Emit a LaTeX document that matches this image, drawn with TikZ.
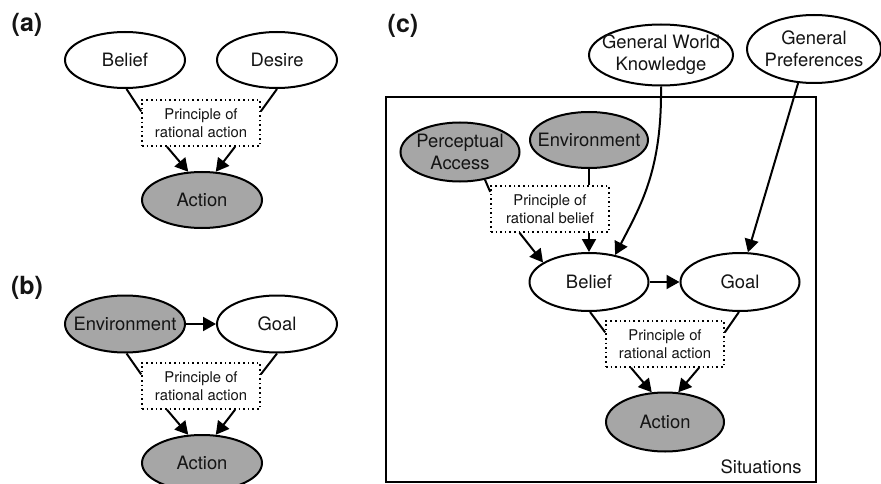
\documentclass[tikz,border=0pt]{standalone}
\usepackage{fontspec}
\setmainfont{TeX Gyre Heros}
\usetikzlibrary{shapes.geometric,arrows.meta,calc}
\definecolor{nodegray}{RGB}{166,166,166}
\definecolor{txt}{RGB}{20,20,20}
\begin{document}
\begin{tikzpicture}[x=1pt,y=-1pt,
  every node/.style={text=txt},
  ell/.style={ellipse, draw=black, line width=2pt, inner xsep=-15pt, inner ysep=-4pt, align=center,
    font=\fontsize{18.4}{22}\selectfont},
  obs/.style={ell, fill=nodegray},
  hid/.style={ell, fill=white},
  princ/.style={rectangle, draw=black, line width=1.6pt, dash pattern=on 1.6pt off 3pt,
    minimum width=118pt, minimum height=46pt, inner sep=0pt, align=center, fill=white,
    font=\fontsize{14.8}{17.7}\selectfont},
  lbl/.style={font=\fontsize{25}{28}\selectfont\bfseries, inner sep=0pt},
  link/.style={line width=2pt, draw=black},
  arr/.style={link, -{Triangle[length=13pt,width=14pt]}}
]
\useasboundingbox (0,0) rectangle (881,484);
\clip (0,0) rectangle (881,484);

% ---------- panel (a)
\node[lbl] (la) at (27,25) {(a)};
\node[hid, minimum width=120pt, minimum height=56pt] (belA) at (125,60) {Belief};
\node[hid, minimum width=120pt, minimum height=56pt] (desA) at (277,60) {Desire};
\node[princ] (boxA) at (201,123) {Principle of\\rational action};
\node[obs, minimum width=120pt, minimum height=56pt] (actA) at (202,200) {Action};
\draw[link] (belA.-87) -- (boxA.169);
\draw[link] (desA.-90) -- (boxA.11);
\draw[arr] (boxA.-145) -- (actA.116);
\draw[arr] (boxA.-35) -- (actA.64);

% ---------- panel (b)
\node[lbl] (lb) at (27,288) {(b)};
\node[obs, minimum width=120pt, minimum height=57pt] (envB) at (125,324) {Environment};
\node[hid, minimum width=120pt, minimum height=57pt] (goalB) at (277,324) {Goal};
\node[princ] (boxB) at (201,386) {Principle of\\rational action};
\node[obs, minimum width=120pt, minimum height=56pt] (actB) at (202,463) {Action};
\draw[arr] (envB.east) -- (goalB.west);
\draw[link] (envB.-87) -- (boxB.169);
\draw[link] (goalB.-90) -- (boxB.11);
\draw[arr] (boxB.-145) -- (actB.116);
\draw[arr] (boxB.-35) -- (actB.64);

% ---------- panel (c)
\node[lbl] (lc) at (403,26) {(c)};
\draw[line width=1.4pt] (386,97) rectangle (816,482);
\node[anchor=base east, font=\fontsize{18.4}{22}\selectfont] (sit) at (805,473) {Situations};
\node[hid, minimum width=144pt, minimum height=61pt] (gwk) at (661,55) {General World\\Knowledge};
\node[hid, minimum width=134pt, minimum height=68pt] (gp) at (814,49) {General\\Preferences};
\node[obs, minimum width=119pt, minimum height=59pt] (pa) at (460,152) {Perceptual\\Access};
\node[obs, minimum width=118pt, minimum height=56pt] (envC) at (589,140) {Environment};
\node[princ] (boxR) at (550,209) {Principle of\\rational belief};
\node[hid, minimum width=119pt, minimum height=58pt] (belC) at (589,282) {Belief};
\node[hid, minimum width=119pt, minimum height=58pt] (goalC) at (740,282) {Goal};
\node[princ] (boxC) at (665,344) {Principle of\\rational action};
\node[obs, minimum width=118pt, minimum height=59pt] (actC) at (665,422) {Action};

\draw[link] (pa.-48) -- (boxR.164);
\draw[link] (envC.south) -- (envC.south |- boxR.north);
\draw[arr] (boxR.south -| belC.north) -- (belC.north);
\draw[arr] (boxR.-142) -- (belC.157);
\draw[arr] (gwk.south) .. controls (662,170) and (641,205) .. (belC.46);
\draw[arr] (gp.-115) -- (goalC.75);
\draw[arr] (belC.east) -- (goalC.west);
\draw[link] (belC.-88) -- (boxC.169);
\draw[link] (goalC.-92) -- (boxC.11);
\draw[arr] (boxC.-145) -- (actC.114);
\draw[arr] (boxC.-35) -- (actC.66);
\end{tikzpicture}
\end{document}
